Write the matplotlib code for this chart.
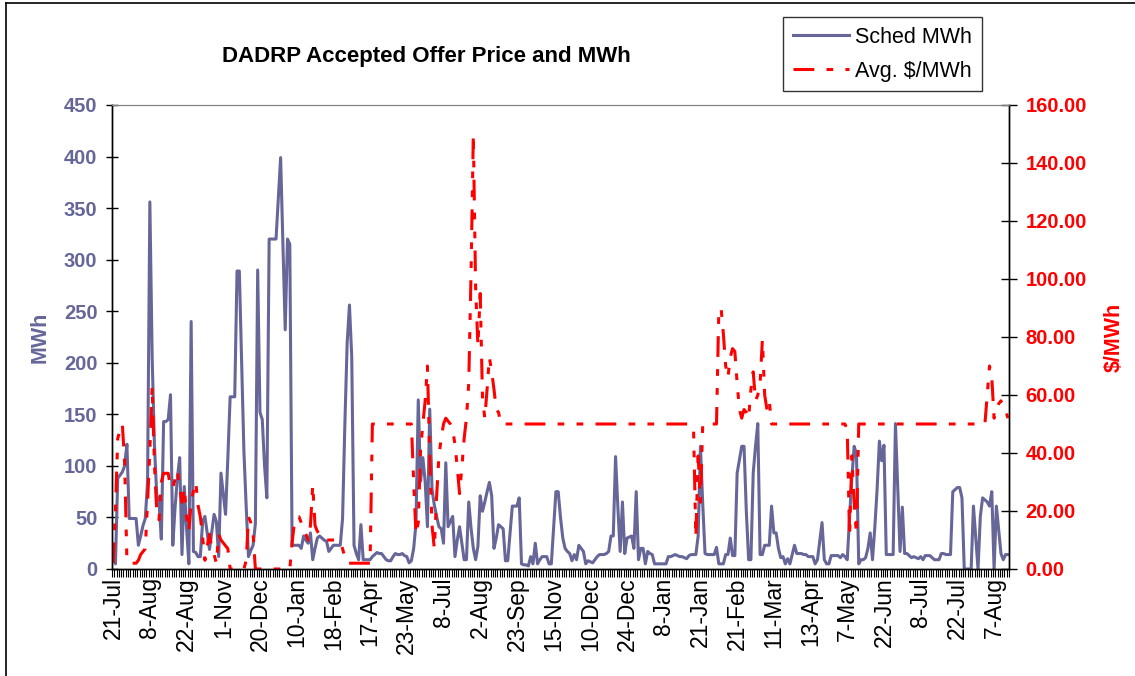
import numpy as np
import matplotlib
matplotlib.use("Agg")
from matplotlib import pyplot as plt
from matplotlib.lines import Line2D
from matplotlib.ticker import FormatStrFormatter

plt.rcParams['font.family'] = ['Liberation Sans', 'DejaVu Sans']

# category labels, one every 16 points
date_labels = ['21-Jul', '8-Aug', '22-Aug', '1-Nov', '20-Dec', '10-Jan', '18-Feb', '17-Apr',
               '23-May', '8-Jul', '2-Aug', '23-Sep', '15-Nov', '10-Dec', '24-Dec', '8-Jan',
               '21-Jan', '21-Feb', '11-Mar', '13-Apr', '7-May', '22-Jun', '8-Jul', '22-Jul', '7-Aug']
label_step = 16

sched_mwh = [
    14, 5, 88, 91, 94, 100, 121, 49, 49, 49,
    49, 23, 32, 42, 49, 84, 356, 206, 120, 72,
    65, 29, 143, 143, 145, 169, 23, 60, 88, 108,
    14, 80, 40, 5, 240, 17, 16, 12, 12, 46,
    51, 35, 19, 36, 53, 46, 12, 93, 73, 53,
    108, 167, 167, 167, 289, 289, 200, 114, 60, 12,
    18, 23, 44, 290, 152, 145, 100, 69, 320, 320,
    320, 320, 360, 399, 315, 232, 320, 315, 23, 23,
    23, 23, 20, 32, 28, 25, 35, 9, 20, 30,
    32, 30, 28, 27, 17, 20, 23, 23, 23, 23,
    49, 140, 219, 256, 206, 23, 15, 9, 43, 9,
    9, 9, 9, 12, 14, 16, 15, 15, 12, 9,
    8, 8, 12, 15, 14, 14, 15, 13, 12, 6,
    8, 20, 44, 164, 85, 108, 85, 41, 155, 77,
    62, 51, 41, 39, 25, 103, 41, 46, 51, 12,
    28, 41, 25, 9, 9, 65, 40, 20, 9, 22,
    71, 56, 65, 75, 84, 71, 20, 30, 43, 41,
    39, 8, 8, 35, 61, 61, 61, 69, 5, 4,
    4, 3, 12, 5, 25, 5, 9, 12, 12, 12,
    5, 5, 40, 75, 75, 50, 30, 20, 17, 15,
    8, 14, 9, 23, 20, 17, 5, 8, 7, 6,
    9, 12, 14, 14, 14, 15, 17, 32, 32, 109,
    60, 17, 65, 15, 30, 31, 32, 20, 75, 9,
    20, 20, 5, 17, 15, 14, 5, 5, 5, 5,
    5, 5, 12, 12, 13, 14, 13, 12, 12, 11,
    10, 13, 14, 14, 14, 32, 119, 63, 15, 14,
    14, 14, 14, 21, 5, 5, 5, 14, 14, 30,
    13, 13, 93, 106, 119, 119, 56, 9, 9, 93,
    119, 141, 14, 14, 23, 23, 23, 61, 35, 35,
    20, 11, 12, 5, 10, 5, 14, 23, 15, 15,
    15, 14, 14, 12, 12, 12, 5, 9, 27, 45,
    9, 5, 5, 13, 13, 13, 13, 11, 14, 12,
    9, 50, 88, 119, 112, 5, 9, 9, 11, 20,
    35, 9, 40, 77, 124, 105, 120, 14, 14, 14,
    14, 141, 80, 17, 60, 15, 15, 13, 11, 12,
    11, 10, 12, 9, 13, 13, 13, 11, 9, 9,
    9, 15, 15, 14, 14, 14, 75, 77, 79, 79,
    69, 0, 0, 0, 0, 61, 30, 0, 51, 69,
    67, 65, 61, 75, 0, 61, 38, 15, 9, 14,
    14,
]

avg_price = [
    2, 20, 45, 48, 50, 37, 3, 2, 2, 2,
    2, 3, 5, 6, 7, 23, 41, 63, 36, 20,
    17, 30, 33, 33, 33, 28, 28, 31, 34, 28,
    23, 28, 18, 13, 23, 27, 30, 22, 18, 11,
    3, 8, 12, 7, 5, 2, 12, 10, 9, 8,
    7, 0, 0, 0, 0, 0, 0, 0, 3, 18,
    16, 12, 0, 0, 0, 0, 0, 0, 0, 0,
    0, 0, 0, 0, 0, 0, 0, 0, 9, 16,
    18, 18, 16, 14, 12, 10, 15, 29, 15, 13,
    12, 12, 11, 10, 10, 10, 10, 10, 10, 9,
    7, 4, 2, 2, 2, 2, 2, 2, 2, 2,
    2, 2, 2, 50, 50, 50, 50, 50, 50, 50,
    50, 50, 50, 50, 50, 50, 50, 50, 50, 50,
    50, 30, 12, 16, 41, 50, 58, 70, 39, 15,
    7, 25, 39, 45, 50, 52, 51, 50, 48, 43,
    35, 26, 35, 45, 52, 64, 102, 150, 97, 77,
    95, 59, 52, 62, 73, 68, 62, 55, 54, 50,
    50, 50, 50, 50, 50, 50, 50, 50, 50, 50,
    50, 50, 50, 50, 50, 50, 50, 50, 50, 50,
    50, 50, 50, 50, 50, 50, 50, 50, 50, 50,
    50, 50, 50, 50, 50, 50, 50, 50, 50, 50,
    50, 50, 50, 50, 50, 50, 50, 50, 50, 50,
    50, 50, 50, 50, 50, 50, 50, 50, 50, 50,
    50, 50, 50, 50, 50, 50, 50, 50, 50, 50,
    50, 50, 50, 50, 50, 50, 50, 50, 50, 50,
    50, 50, 50, 48, 11, 39, 23, 50, 50, 50,
    50, 50, 50, 50, 89, 90, 81, 70, 66, 73,
    76, 75, 64, 55, 52, 55, 54, 52, 62, 68,
    58, 60, 64, 79, 60, 55, 58, 50, 50, 50,
    50, 50, 50, 50, 50, 50, 50, 50, 50, 50,
    50, 50, 50, 50, 50, 50, 50, 50, 50, 50,
    50, 50, 50, 50, 50, 50, 50, 50, 50, 50,
    48, 11, 39, 23, 12, 50, 50, 50, 50, 50,
    50, 50, 50, 50, 50, 50, 50, 50, 50, 50,
    50, 50, 50, 50, 50, 50, 50, 50, 50, 50,
    50, 50, 50, 50, 50, 50, 50, 50, 50, 50,
    50, 50, 50, 50, 50, 50, 50, 50, 50, 50,
    50, 50, 50, 50, 50, 50, 50, 50, 50, 50,
    50, 60, 70, 66, 52, 55, 57, 58, 56, 55,
    52,
]

blue = '#666699'
red = '#FF0000'

n = len(sched_mwh)
x = np.arange(n)

fig = plt.figure(figsize=(11.35, 6.76), dpi=100)
ax = fig.add_axes([112 / 1135, 1 - 569 / 676, 897 / 1135, 464 / 676])
ax2 = ax.twinx()

l1, = ax.plot(x, sched_mwh, color=blue, lw=2.2, label='Sched MWh')
l2, = ax2.plot(np.arange(len(avg_price)), avg_price, color=red, lw=2.2,
               ls=(0, (6.8, 4, 2.2, 4, 2.2, 4)), label='Avg. $/MWh')

ax.set_xlim(-0.5, n - 0.5)
ax.set_ylim(0, 450)
ax.set_yticks(np.arange(0, 451, 50))
ax2.set_ylim(0, 160)
ax2.set_yticks(np.arange(0, 161, 20))
ax2.yaxis.set_major_formatter(FormatStrFormatter('%.2f'))

ax.set_xticks(np.arange(0, n, label_step)[:len(date_labels)])
ax.set_xticklabels(date_labels, rotation=90, fontsize=16.5)
ax.set_xticks(np.arange(-0.5, n, 1), minor=True)
ax.tick_params(axis='x', which='major', length=0, pad=6)
ax.tick_params(axis='x', which='minor', length=6, width=0.8, direction='out')

ax.tick_params(axis='y', length=9, width=1, direction='inout', labelcolor=blue,
               labelsize=14.5, pad=6)
for t in ax.get_yticklabels():
    t.set_fontweight('bold')
ax2.tick_params(axis='y', length=12, width=1, direction='inout', labelcolor=red,
                labelsize=14.5, pad=6)
for t in ax2.get_yticklabels():
    t.set_fontweight('bold')

ax.set_ylabel('MWh', color=blue, fontsize=15.5, fontweight='bold')
ax.yaxis.set_label_coords(-0.068, 0.5)
ax2.set_ylabel('$/MWh', color=red, fontsize=15.5, fontweight='bold', rotation=90)
ax2.yaxis.set_label_coords(1.106, 0.5)

for a in (ax, ax2):
    a.spines['top'].set_color('#808080')
    for s in ('left', 'right', 'bottom'):
        a.spines[s].set_color('black')
        a.spines[s].set_linewidth(1)

fig.text(0.376, 0.917, 'DADRP Accepted Offer Price and MWh', ha='center', va='center',
         fontsize=16, fontweight='bold')

leg = fig.legend(handles=[l1, l2], loc='upper left', bbox_to_anchor=(783 / 1135, 1 - 17 / 676),
                 fontsize=15.5, frameon=True, fancybox=False, edgecolor='black',
                 handlelength=2.6, handletextpad=0.3, borderpad=0.45, labelspacing=0.6,
                 borderaxespad=0)
leg.get_frame().set_linewidth(1)

# outer chart border
fig.add_artist(Line2D([6 / 1135, 6 / 1135], [0, 1 - 3 / 676], color='black', lw=1.2,
                      transform=fig.transFigure))
fig.add_artist(Line2D([6 / 1135, 1], [1 - 3 / 676, 1 - 3 / 676], color='black', lw=1.2,
                      transform=fig.transFigure))

fig.savefig('out.png', dpi=100)
